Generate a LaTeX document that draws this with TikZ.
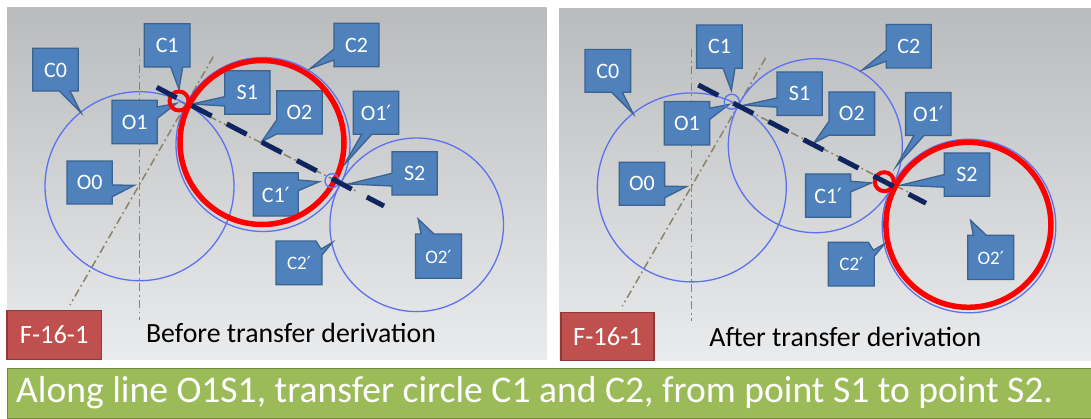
\documentclass[tikz,border=0pt]{standalone}
\usepackage{fontspec}
\setmainfont{Carlito}
\newfontfamily\primefont{DejaVu Sans}
\newcommand{\pr}{{\primefont\fontsize{0.95em}{1em}\selectfont ′}}
\definecolor{cofill}{HTML}{4F81BD}
\definecolor{coedge}{HTML}{3A6390}
\definecolor{ringblue}{HTML}{5B72F0}
\definecolor{guide}{HTML}{8B8368}
\definecolor{navyline}{HTML}{0F2560}
\definecolor{redfill}{HTML}{C0504D}
\definecolor{rededge}{HTML}{8F3A38}
\definecolor{greenfill}{HTML}{9BBB59}
\definecolor{greenedge}{HTML}{71893F}
\definecolor{bgtop}{HTML}{BABBBD}
\definecolor{bgbot}{HTML}{EAEBEC}
\tikzset{
  co/.style={fill=cofill,draw=coedge,line width=1.3pt,line join=miter},
  lab/.style={text=white,font=\fontsize{22}{24}\selectfont,inner sep=0pt},
  labs/.style={text=white,font=\fontsize{19}{21}\selectfont,inner sep=0pt},
  ring/.style={draw=ringblue,line width=1.3pt},
  redring/.style={draw=red,line width=5.5pt},
  redsmall/.style={draw=red,line width=4pt},
  guideline/.style={draw=guide,line width=1.5pt,dash pattern=on 8pt off 3.5pt on 1.8pt off 3.5pt},
  navydash/.style={draw=navyline,line width=5pt,dash pattern=on 22.5pt off 17pt},
  tag/.style={fill=redfill,draw=rededge,line width=1.3pt,text=white,inner sep=0pt,font=\fontsize{26.5}{28}\selectfont},
  caption/.style={text=black,inner sep=0pt,font=\fontsize{27.8}{30}\selectfont},
}
\newcommand{\panelbase}{%
  \coordinate (vt) at (139.3,48); \coordinate (vb) at (139.3,320);
  \coordinate (dt) at (213.3,56.7); \coordinate (db) at (70,305);
  \coordinate (gs) at (179,101); \coordinate (ge) at (358,192);
  \draw[guideline] (vt) -- (vb);
  \draw[guideline] (dt) -- (db);
  \draw[guideline] (gs) -- (ge);
  \draw[ring] (139.5,186.2) circle[radius=94.5];
  \draw[ring] (263,144.5) circle[radius=87];
  \draw[ring] (416.7,224.8) circle[radius=86.8];
}
\newcommand{\panelcallouts}{%
  \draw[co] (32.7,48.3)--(78.3,48.3)--(78.3,91)--(70,91)--(81,112.7)--(59.3,91)--(32.7,91)--cycle;
  \node[lab] (c0) at (55.5,70) {C0};
  \draw[co] (144.3,23.7)--(190,23.7)--(190,67)--(182.7,67)--(179,89.3)--(170.7,67)--(144.3,67)--cycle;
  \node[lab] (c1) at (167.2,45.7) {C1};
  \draw[co] (112,100.3)--(157.3,100.3)--(157.3,107)--(176.7,103.3)--(157.3,118.3)--(157.3,143.7)--(112,143.7)--cycle;
  \node[lab] (o1) at (134.7,122.5) {O1};
  \draw[co] (224.7,70.7)--(270,70.7)--(270,114.3)--(224.7,114.3)--(224.7,106)--(191.7,104)--(224.7,96.7)--cycle;
  \node[lab] (s1) at (247.3,92.5) {S1};
  \draw[co] (67,161)--(112.3,161)--(112.3,185)--(134.3,185.3)--(112.3,196.7)--(112.3,204)--(67,204)--cycle;
  \node[lab] (o0) at (89.7,182.5) {O0};
  \draw[co] (276.7,90.7)--(322.3,90.7)--(322.3,134)--(276.7,134)--(261.7,141.7)--(276.7,120)--cycle;
  \node[lab] (o2) at (299.5,112.5) {O2};
  \draw[co] (334,23.3)--(379,23.3)--(379,66.7)--(334,66.7)--(334,60)--(310,68.7)--(334,49)--cycle;
  \node[lab] (c2) at (356.5,45) {C2};
  \draw[co] (353.3,91.3)--(398.7,91.3)--(398.7,134.3)--(371.7,134.3)--(344,165)--(361.7,134.3)--(353.3,134.3)--cycle;
  \node[lab] (o1p) at (376,113) {O1\pr};
  \draw[co] (392,151.7)--(437.3,151.7)--(437.3,195)--(392,195)--(392,186)--(348.3,184)--(392,173.3)--cycle;
  \node[lab] (s2) at (414.7,173.3) {S2};
  \draw[co] (253.3,172.7)--(298.3,172.7)--(298.3,180)--(319.3,181.7)--(298.3,190.7)--(298.3,216)--(253.3,216)--cycle;
  \node[lab] (c1p) at (275.8,194.5) {C1\pr};
  \draw[co] (276,241)--(316,241)--(321,249)--(332.6,242.3)--(322,255)--(322,284.7)--(276,284.7)--cycle;
  \node[labs] (c2p) at (299,263) {C2\pr};
  \draw[co] (415.4,234)--(421,234)--(418.2,219)--(434,234)--(461.4,234)--(461.4,278.3)--(415.4,278.3)--cycle;
  \node[labs] (o2p) at (438.4,256.5) {O2\pr};
}
\begin{document}
\begin{tikzpicture}[x=1pt,y=-1pt]
\useasboundingbox (0,0) rectangle (1091,418);
\fill[white] (0,0) rectangle (1091,418);
\shade[top color=bgtop,bottom color=bgbot] (7,7) rectangle (546.5,359.5);
\shade[top color=bgtop,bottom color=bgbot] (559,8) rectangle (1091,360.7);
%
\begin{scope}[name prefix=a-]
  \panelbase
  \panelcallouts
  \draw[redring] (262,142.5) circle[radius=82];
  \draw[redsmall] (179,101) circle[radius=9.5];
  \draw[ring] (332,180.7) circle[radius=7];
  \coordinate (ns) at (156.7,87.3); \coordinate (ne) at (384,206);
  \draw[navydash] (ns) -- (ne);
  \node[tag,minimum width=94.4pt,minimum height=48.4pt] (tag) at (54.2,335) {F-16-1};
  \node[caption] (cap) at (291,333) {Before transfer derivation};
\end{scope}
%
\begin{scope}[shift={(552.3,1.2)},name prefix=b-]
  \panelbase
  \panelcallouts
  \draw[redring] (416.1,223.6) circle[radius=82.5];
  \draw[redsmall] (332,180.5) circle[radius=9.5];
  \draw[ring] (179.4,100.5) circle[radius=7.5];
  \coordinate (ns) at (146,83.8); \coordinate (ne) at (373.7,202);
  \draw[navydash] (ns) -- (ne);
  \node[tag,minimum width=93pt,minimum height=48.4pt] (tag) at (55.2,335.2) {F-16-1};
  \node[caption] (cap) at (293,336) {After transfer derivation};
\end{scope}
%
\node[fill=greenfill,draw=greenedge,line width=1.3pt,minimum width=1086pt,minimum height=50pt,inner sep=0pt,anchor=north west] (bar) at (7,368) {};
\node[text=white,inner sep=0pt,font=\fontsize{37.6}{40}\selectfont,anchor=west] (bartext) at (16,393) {Along line O1S1, transfer circle C1 and C2, from point S1 to point S2.};
\end{tikzpicture}
\end{document}
